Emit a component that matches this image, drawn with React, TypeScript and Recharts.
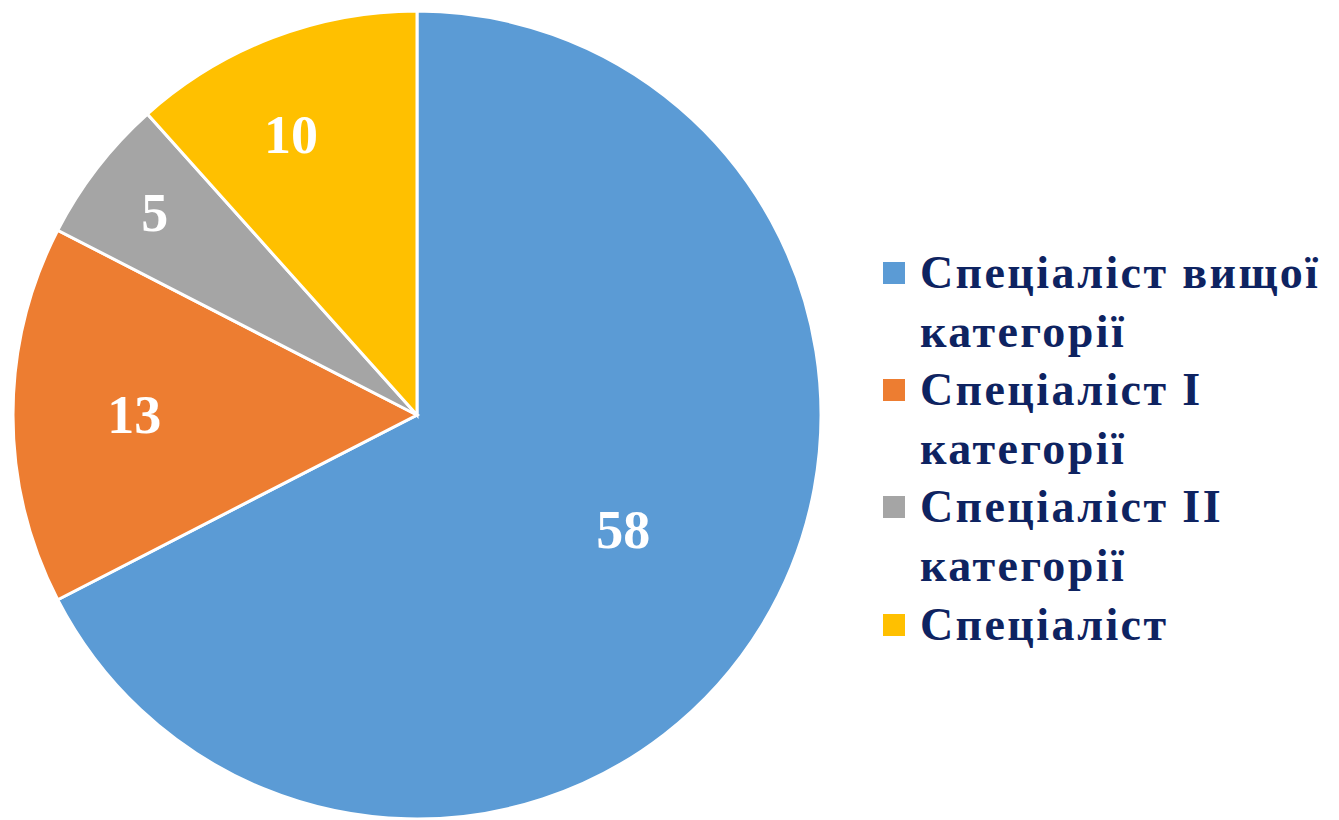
import { PieChart, Pie, Cell, Legend } from 'recharts'

const categories = ['Спеціаліст вищої категорії', 'Спеціаліст I категорії', 'Спеціаліст II категорії', 'Спеціаліст']
const counts = [58, 13, 5, 10]
const colors = ['#5B9BD5', '#ED7D31', '#A5A5A5', '#FFC000']

const data = categories.map((name, i) => ({ name, value: counts[i] }))

const FONT = '"Liberation Serif", "DejaVu Serif", serif'
const NAVY = '#0E2361'
const RAD = Math.PI / 180

// Excel "best fit" puts the labels at different depths (and a bit off the middle) in each slice
const labelDepth = [0.585, 0.7, 0.82, 0.76]
const labelTurn = [2.2, 0, 0, 3.3]

const renderLabel = (props: any) => {
  const { cx, cy, midAngle, outerRadius, index, value } = props
  const r = outerRadius * labelDepth[index]
  const a = (midAngle + labelTurn[index]) * RAD
  const x = cx + r * Math.cos(-a)
  const y = cy + r * Math.sin(-a)
  return (
    <text x={x} y={y} fill="#fff" textAnchor="middle" dominantBaseline="central"
      style={{ fontFamily: FONT, fontWeight: 700, fontSize: 54 }}>
      {value}
    </text>
  )
}

const renderLegend = () => (
  <ul style={{ listStyle: 'none', margin: 0, padding: 0, width: 455 }}>
    {data.map((d, i) => (
      <li key={d.name} style={{ display: 'flex', alignItems: 'flex-start' }}>
        <span style={{ width: 22, height: 22, background: colors[i], flex: '0 0 22px', marginTop: 18, marginRight: 15 }} />
        <span style={{ fontFamily: FONT, fontWeight: 700, fontSize: 46, letterSpacing: 2.4, lineHeight: '58.6px', color: NAVY }}>{d.name}</span>
      </li>
    ))}
  </ul>
)

export default function App() {
  return (
    <div style={{ position: 'absolute', left: 0, top: 0, background: '#fff' }}>
      <PieChart width={1339} height={820} margin={{ top: 0, right: 0, bottom: 0, left: 0 }}>
        <Pie
          data={data}
          dataKey="value"
          nameKey="name"
          cx={417}
          cy={415}
          outerRadius={404}
          startAngle={90}
          endAngle={-270}
          stroke="#fff"
          strokeWidth={3}
          label={renderLabel}
          labelLine={false}
          isAnimationActive={false}
        >
          {data.map((d, i) => (
            <Cell key={d.name} fill={colors[i]} />
          ))}
        </Pie>
        <Legend content={renderLegend} wrapperStyle={{ left: 883, top: 244, width: 456 }} />
      </PieChart>
    </div>
  )
}
